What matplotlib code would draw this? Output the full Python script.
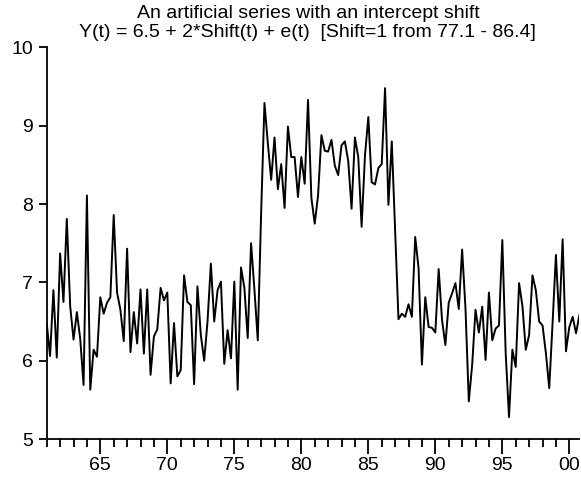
import numpy as np
import matplotlib
matplotlib.use('Agg')
import matplotlib.pyplot as plt
from matplotlib.ticker import MultipleLocator, FuncFormatter

plt.rcParams['font.family'] = ['Liberation Sans', 'DejaVu Sans']

# quarterly series, 1961Q1 .. 2000Q4
start_year = 61.0
y_values = [
    6.48, 6.06, 6.90, 6.04, 7.37, 6.75, 7.81, 6.70, 6.27, 6.62,
    6.28, 5.69, 8.11, 5.63, 6.14, 6.05, 6.81, 6.60, 6.74, 6.81,
    7.86, 6.87, 6.65, 6.25, 7.43, 6.11, 6.62, 6.22, 6.91, 6.09,
    6.91, 5.82, 6.31, 6.40, 6.93, 6.77, 6.87, 5.71, 6.48, 5.80,
    5.88, 7.09, 6.75, 6.71, 5.70, 6.95, 6.33, 6.00, 6.50, 7.24,
    6.50, 6.90, 7.01, 5.96, 6.39, 6.03, 7.01, 5.63, 7.19, 6.93,
    6.29, 7.50, 6.91, 6.26, 7.88, 9.29, 8.78, 8.31, 8.85, 8.19,
    8.51, 7.95, 8.99, 8.60, 8.60, 8.09, 8.60, 8.26, 9.33, 8.08,
    7.75, 8.11, 8.88, 8.68, 8.67, 8.82, 8.49, 8.37, 8.75, 8.80,
    8.55, 7.94, 8.85, 8.60, 7.71, 8.62, 9.11, 8.28, 8.25, 8.46,
    8.51, 9.48, 7.99, 8.80, 7.66, 6.53, 6.60, 6.56, 6.72, 6.56,
    7.58, 7.18, 5.95, 6.81, 6.43, 6.42, 6.36, 7.17, 6.52, 6.20,
    6.74, 6.86, 6.99, 6.66, 7.42, 6.67, 5.48, 5.95, 6.65, 6.36,
    6.69, 6.01, 6.87, 6.26, 6.41, 6.45, 7.54, 6.10, 5.28, 6.14,
    5.92, 6.99, 6.70, 6.14, 6.33, 7.09, 6.90, 6.50, 6.45, 6.10,
    5.65, 6.48, 7.35, 6.50, 7.55, 6.12, 6.43, 6.56, 6.35, 6.58,
]
x_values = start_year + np.arange(len(y_values)) / 4.0

title = ('An artificial series with an intercept shift\n'
         'Y(t) = 6.5 + 2*Shift(t) + e(t)  [Shift=1 from 77.1 - 86.4]')

fig = plt.figure(figsize=(5.81, 4.79), dpi=100)
ax = fig.add_axes([0.0804, 0.0835, 0.9168, 0.8175])

ax.plot(x_values, y_values, color='black', linewidth=1.4)

ax.set_xlim(61, 100.75)
ax.set_ylim(5, 10)

ax.xaxis.set_major_locator(MultipleLocator(5))
ax.xaxis.set_minor_locator(MultipleLocator(1))
ax.xaxis.set_major_formatter(FuncFormatter(lambda v, p: '%02d' % (int(round(v)) % 100)))
ax.yaxis.set_major_locator(MultipleLocator(1))

for side in ['top', 'right']:
    ax.spines[side].set_visible(False)
for side in ['left', 'bottom']:
    ax.spines[side].set_linewidth(1.3)

ax.tick_params(axis='x', which='major', direction='out', length=11, width=1.3,
               labelsize=14, pad=2)
ax.tick_params(axis='x', which='minor', direction='out', length=6, width=1.3)
ax.tick_params(axis='y', which='major', direction='out', length=6, width=1.3,
               labelsize=14, pad=4)

fig.text(0.530, 0.915, title, fontsize=14, ha='center', va='bottom',
         linespacing=1.1)

plt.savefig('out.png', dpi=100)
